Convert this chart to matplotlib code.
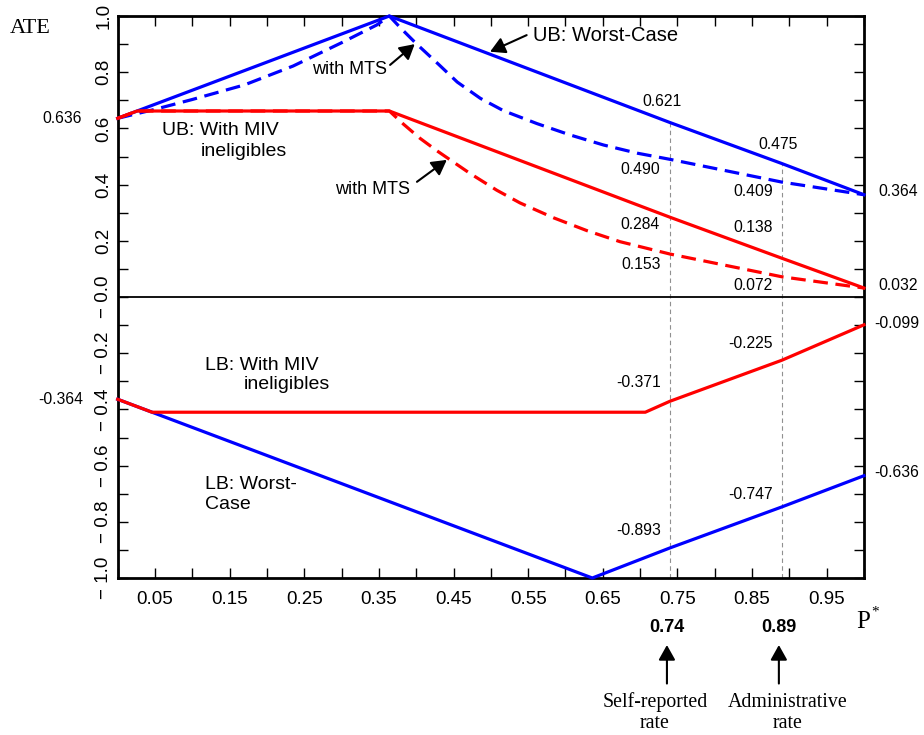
import matplotlib
matplotlib.use("Agg")
import matplotlib.pyplot as plt
import matplotlib.transforms as mtransforms
import numpy as np

plt.rcParams['font.family'] = ['Liberation Sans', 'DejaVu Sans']

# upper bounds
p_ub = [0, 0.364, 0.74, 0.89, 1.0]
ub_worst = [0.636, 1.0, 0.621, 0.475, 0.364]

p_ub_miv = [0, 0.026, 0.364, 0.74, 0.89, 1.0]
ub_miv = [0.636, 0.662, 0.662, 0.284, 0.138, 0.032]

p_ub_mts = [0, 0.05, 0.10, 0.17, 0.235, 0.30, 0.347, 0.364, 0.38, 0.40, 0.43, 0.455,
            0.486, 0.517, 0.562, 0.606, 0.651, 0.696, 0.74, 0.89, 1.0]
ub_mts = [0.636, 0.668, 0.703, 0.755, 0.822, 0.905, 0.968, 1.0, 0.955, 0.902, 0.828, 0.765,
          0.707, 0.663, 0.617, 0.577, 0.541, 0.512, 0.490, 0.409, 0.364]

p_ub_miv_mts = [0, 0.026, 0.364, 0.383, 0.405, 0.428, 0.45, 0.472, 0.508, 0.539, 0.584,
                0.629, 0.673, 0.74, 0.89, 1.0]
ub_miv_mts = [0.636, 0.662, 0.662, 0.615, 0.565, 0.520, 0.480, 0.440, 0.380, 0.335, 0.282,
              0.236, 0.197, 0.153, 0.072, 0.032]

# lower bounds
p_lb = [0, 0.636, 0.74, 0.89, 1.0]
lb_worst = [-0.364, -1.0, -0.893, -0.747, -0.636]

p_lb_miv = [0, 0.046, 0.707, 0.74, 0.89, 1.0]
lb_miv = [-0.364, -0.41, -0.41, -0.371, -0.225, -0.099]

rates = [0.74, 0.89]
rate_names = ["Self-reported\nrate", "Administrative\nrate"]

BLUE = '#0000ff'
RED = '#ff0000'
LW = 2.3
DASH = (4.6, 2.4)

fig = plt.figure(figsize=(9.24, 7.35), dpi=100)
ax = fig.add_axes([0.1274, 0.2136, 0.8076, 0.7646])

ax.plot(p_ub, ub_worst, color=BLUE, lw=LW, clip_on=False, zorder=3)
ax.plot(p_ub_mts, ub_mts, color=BLUE, lw=LW, dashes=DASH, clip_on=False, zorder=3)
ax.plot(p_ub_miv, ub_miv, color=RED, lw=LW, clip_on=False, zorder=3)
ax.plot(p_ub_miv_mts, ub_miv_mts, color=RED, lw=LW, dashes=DASH, clip_on=False, zorder=3)
ax.plot(p_lb, lb_worst, color=BLUE, lw=LW, clip_on=False, zorder=3)
ax.plot(p_lb_miv, lb_miv, color=RED, lw=LW, clip_on=False, zorder=3)

ax.axhline(0, color='black', lw=1.3, zorder=2)

# dashed guides at the two rates
for r in rates:
    top = np.interp(r, p_ub, ub_worst)
    ax.vlines(r, -1, top, colors='#909090', lw=0.8, linestyles=(0, (4, 3)), zorder=1)

ax.set_xlim(0, 1)
ax.set_ylim(-1, 1)

xt = np.round(np.arange(0, 1.0001, 0.05), 2)
ax.set_xticks(xt)
ax.set_xticklabels([f"{v:.2f}" if round(v * 100) % 10 == 5 else "" for v in xt])
yt = np.round(np.arange(-1, 1.0001, 0.1), 1)
ax.set_yticks(yt)
ylabs = []
for v in yt:
    k = int(round(v * 10))
    if k % 2:
        ylabs.append("")
    elif k > 0:
        ylabs.append(f"{v:.1f}")
    else:
        ylabs.append("\u2212 " + f"{abs(v):.1f}")
ax.set_yticklabels(ylabs, rotation=90, va='center')
ax.tick_params(direction='in', length=7, width=1, top=True, right=True,
               labelsize=13.5, colors='black')
ax.tick_params(axis='x', pad=9)
ax.tick_params(axis='y', pad=4)
for s in ax.spines.values():
    s.set_linewidth(2)

# value labels next to the curves
def vlabel(x, xs, ys, dx, dy):
    y = float(np.interp(x, xs, ys))
    ax.annotate(f"{y:.3f}", (x, y), xytext=(dx, dy), textcoords='offset points',
                ha='center', va='center', fontsize=11.3, annotation_clip=False)

vlabel(0.74, p_ub, ub_worst, -5.4, 14.8)
vlabel(0.89, p_ub, ub_worst, -2.5, 14)
vlabel(0.74, p_ub_mts, ub_mts, -21.2, -7)
vlabel(0.89, p_ub_mts, ub_mts, -20.9, -6.5)
vlabel(0.74, p_ub_miv, ub_miv, -21.2, -4.9)
vlabel(0.89, p_ub_miv, ub_miv, -20.9, 22)
vlabel(0.74, p_ub_miv_mts, ub_miv_mts, -20.5, -7.2)
vlabel(0.89, p_ub_miv_mts, ub_miv_mts, -20.9, -6.6)
vlabel(1.0, p_ub, ub_worst, 24.9, 2.2)
vlabel(1.0, p_ub_miv, ub_miv, 24.9, 1.7)
vlabel(0.0, p_ub, ub_worst, -40.1, -0.5)
vlabel(0.74, p_lb_miv, lb_miv, -22.3, 13.2)
vlabel(0.89, p_lb_miv, lb_miv, -22.3, 12.4)
vlabel(0.74, p_lb, lb_worst, -22.3, 12.9)
vlabel(0.89, p_lb, lb_worst, -22.3, 8.6)
vlabel(1.0, p_lb_miv, lb_miv, 23.8, 1.3)
vlabel(1.0, p_lb, lb_worst, 23.8, 2.2)
vlabel(0.0, p_lb, lb_worst, -41.2, 0)

# curve names
arr = dict(arrowstyle='-|>,head_length=0.5,head_width=0.28', color='black', lw=1.5,
           mutation_scale=18, shrinkA=0, shrinkB=0)
ax.text(0.5565, 0.929, "UB: Worst-Case", fontsize=14.5, ha='left', va='center')
ax.annotate("", xy=(0.499, 0.873), xytext=(0.548, 0.932), arrowprops=arr)
ax.text(0.310, 0.808, "with MTS", fontsize=13, ha='center', va='center')
ax.annotate("", xy=(0.398, 0.900), xytext=(0.365, 0.826), arrowprops=arr)
ax.text(0.341, 0.381, "with MTS", fontsize=13, ha='center', va='center')
ax.annotate("", xy=(0.441, 0.488), xytext=(0.401, 0.410), arrowprops=arr)
ax.text(0.059, 0.592, "UB: With MIV", fontsize=14, ha='left', va='center')
ax.text(0.111, 0.517, "ineligibles", fontsize=14, ha='left', va='center')
ax.text(0.117, -0.242, "LB: With MIV", fontsize=14, ha='left', va='center')
ax.text(0.169, -0.313, "ineligibles", fontsize=14, ha='left', va='center')
ax.text(0.117, -0.669, "LB: Worst-", fontsize=14, ha='left', va='center')
ax.text(0.117, -0.740, "Case", fontsize=14, ha='left', va='center')

# axis titles
fig.text(0.0108, 0.9615, "ATE", family='Liberation Serif', fontsize=16, ha='left', va='center')
fig.text(0.927, 0.154, "P", family='Liberation Serif', fontsize=18, ha='left', va='center')
fig.text(0.947, 0.167, "*", family='Liberation Serif', fontsize=11, ha='center', va='center')

# rate markers below the axis
bt = mtransforms.blended_transform_factory(ax.transData, fig.transFigure)
for r, name, xoff in zip(rates, rate_names, [-0.02, 0.008]):
    ax.text(r - 0.004, 0.1456, f"{r:.2f}", transform=bt, fontsize=13, fontweight='bold',
            ha='center', va='center', clip_on=False)
    ax.annotate("", xy=(r - 0.004, 0.1224), xytext=(r - 0.004, 0.070), xycoords=bt,
                textcoords=bt, arrowprops=arr, annotation_clip=False)
    ax.text(r + xoff, 0.030, name, transform=bt, family='Liberation Serif', fontsize=14.3,
            ha='center', va='center', linespacing=1.15, clip_on=False)

fig.savefig("out.png", dpi=100)
